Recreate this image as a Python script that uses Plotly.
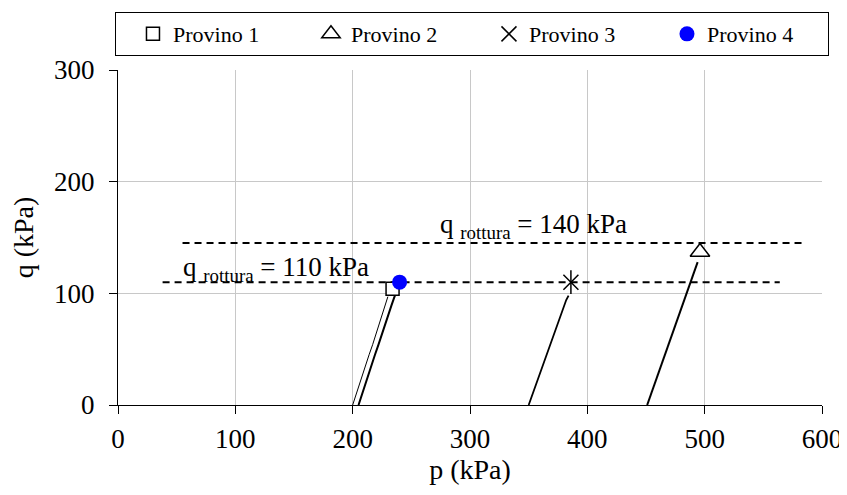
import plotly.graph_objects as go

# stress paths p-q (kPa)
p1 = [200, 203, 207, 210, 214, 217, 220, 223, 226, 228, 230]
q1 = [0, 10, 22, 32, 45, 54, 64, 73, 83, 90, 97]

p4 = [205, 208, 212, 215, 219, 222, 225, 228, 231, 233, 235, 236]
q4 = [0, 10, 22, 32, 45, 54, 64, 73, 83, 89, 95, 98]

p3 = [350, 353, 357, 361, 364, 368, 371, 374, 377, 380, 382, 384]
q3 = [0, 9, 21, 33, 42, 54, 63, 72, 81, 89, 94, 98]

p2 = [451, 455, 459, 463, 467, 471, 475, 479, 483, 486, 489, 492, 494]
q2 = [0, 12, 24, 37, 49, 61, 73, 85, 97, 106, 114, 122, 128]

# failure points
fail_p = {"Provino 1": 234, "Provino 2": 496, "Provino 3": 386, "Provino 4": 240}
fail_q = {"Provino 1": 104, "Provino 2": 137, "Provino 3": 110, "Provino 4": 110}

# q rottura reference lines
rott_140_p = [55, 584]
rott_140_q = [145, 145]
rott_110_p = [38, 564]
rott_110_q = [110, 110]

FONT = "Liberation Serif, Times New Roman, serif"

fig = go.Figure()

# dashed lines
for xs, ys in [(rott_140_p, rott_140_q), (rott_110_p, rott_110_q)]:
    fig.add_trace(go.Scatter(x=xs, y=ys, mode="lines", showlegend=False,
                             line=dict(color="black", width=2, dash="7px,5px")))

# paths
for xs, ys, w in [(p1, q1, 1), (p4, q4, 2), (p3, q3, 1.8), (p2, q2, 2)]:
    fig.add_trace(go.Scatter(x=xs, y=ys, mode="lines", showlegend=False,
                             line=dict(color="black", width=w)))

# failure markers
fig.add_trace(go.Scatter(x=[fail_p["Provino 1"]], y=[fail_q["Provino 1"]], mode="markers",
                         name="Provino 1",
                         marker=dict(symbol="square", size=13, color="white",
                                     line=dict(color="black", width=1.5))))
fig.add_trace(go.Scatter(x=[fail_p["Provino 2"]], y=[fail_q["Provino 2"]], mode="markers",
                         name="Provino 2",
                         marker=dict(symbol="triangle-up", size=17, color="white",
                                     line=dict(color="black", width=1.5))))
fig.add_trace(go.Scatter(x=[fail_p["Provino 3"]], y=[fail_q["Provino 3"]], mode="markers",
                         showlegend=False,
                         marker=dict(symbol="line-ns-open", size=17, color="black",
                                     line=dict(color="black", width=1.5))))
fig.add_trace(go.Scatter(x=[fail_p["Provino 3"]], y=[fail_q["Provino 3"]], mode="markers",
                         name="Provino 3",
                         marker=dict(symbol="x-thin-open", size=15, color="black",
                                     line=dict(color="black", width=1.5))))
fig.add_trace(go.Scatter(x=[fail_p["Provino 4"]], y=[fail_q["Provino 4"]], mode="markers",
                         name="Provino 4",
                         marker=dict(symbol="circle", size=15, color="#0000ff")))

fig.add_annotation(x=354, y=160, text="q <sub>rottura</sub> = 140 kPa", showarrow=False,
                   font=dict(family=FONT, size=27, color="black"))
fig.add_annotation(x=135, y=122, text="q <sub>rottura</sub> = 110 kPa", showarrow=False,
                   font=dict(family=FONT, size=27, color="black"))

axis = dict(showgrid=True, gridcolor="#c8c8c8", gridwidth=1, zeroline=False,
            showline=True, linecolor="black", linewidth=1,
            ticks="outside", ticklen=8, tickcolor="black", automargin=False,
            tickfont=dict(family=FONT, size=27, color="black"))

# page has an 8px body margin, so the figure is a bit smaller than the window
fig.update_layout(
    width=839, height=487,
    margin=dict(l=110, r=25, t=62, b=90, autoexpand=False),
    paper_bgcolor="white", plot_bgcolor="white",
    font=dict(family=FONT, color="black"),
    xaxis=dict(range=[0, 600], dtick=100, ticklabelstandoff=2,
               title=dict(text="p (kPa)", font=dict(family=FONT, size=28), standoff=0), **axis),
    yaxis=dict(range=[0, 300], dtick=100, ticklabelstandoff=9,
               title=dict(text="q (kPa)", font=dict(family=FONT, size=28), standoff=16), **axis),
    legend=dict(orientation="h", x=-0.0043, xanchor="left", y=1.173, yanchor="top",
                bordercolor="black", borderwidth=1, bgcolor="white",
                font=dict(family=FONT, size=22, color="black"),
                indentation=17, entrywidth=116, entrywidthmode="pixels"),
)

fig.write_html("out.html")
